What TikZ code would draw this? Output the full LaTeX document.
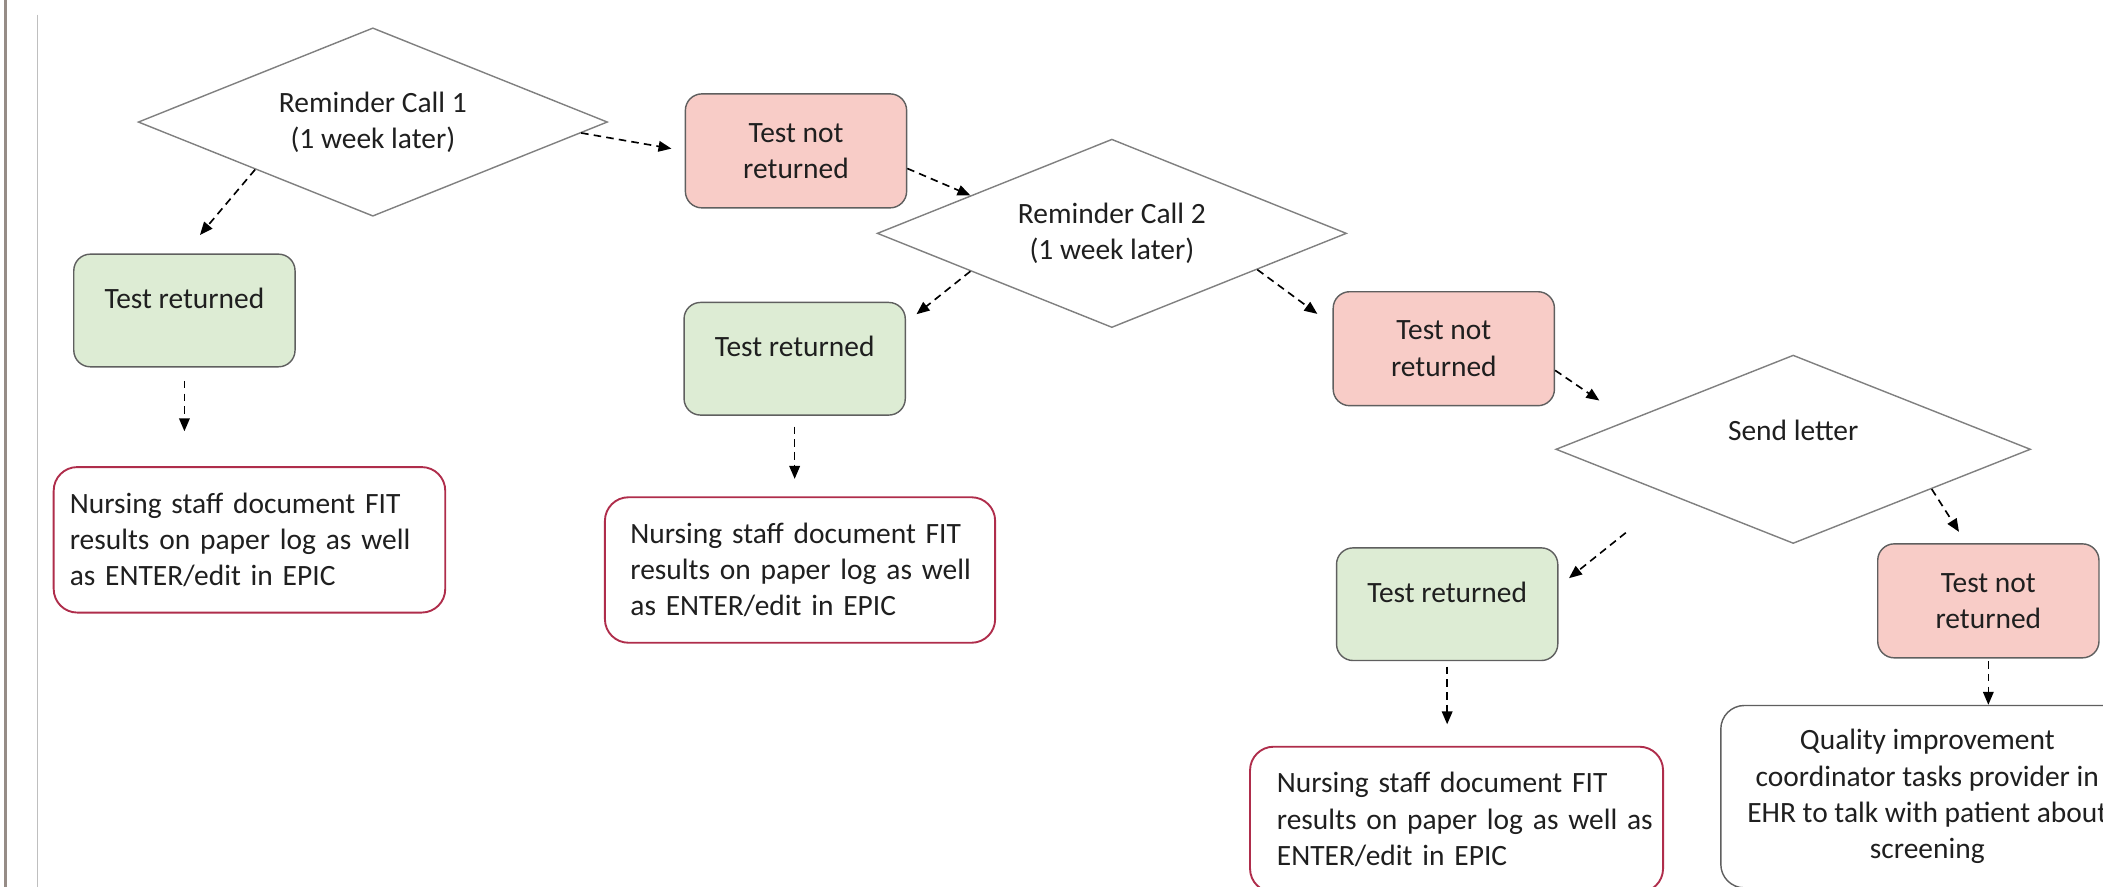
\documentclass[tikz,border=0pt]{standalone}
\usepackage{fontspec}
\setmainfont{Carlito}
\usetikzlibrary{shapes.geometric,arrows.meta}
\definecolor{pinkfill}{RGB}{248,204,199}
\definecolor{greenfill}{RGB}{221,236,212}
\definecolor{boxline}{RGB}{95,95,95}
\definecolor{noteline}{RGB}{175,45,75}
\definecolor{pageline}{RGB}{150,140,135}
\begin{document}
\begin{tikzpicture}[x=0.02cm,y=-0.02cm]
    \tikzset{base/.style = {font=\fontsize{12.5}{15.4}\selectfont, text=black!88, line width=0.6pt, inner sep=0pt},
             decision/.style = {base, shape=diamond, aspect=2.5, draw=black!50, fill=white, minimum width=7cm, minimum height=2.81cm, align=center},
             notret/.style = {base, rectangle, rounded corners=7pt, draw=boxline, fill=pinkfill, minimum width=3.3cm, minimum height=1.7cm, align=center},
             ret/.style = {base, rectangle, rounded corners=7pt, draw=boxline, fill=greenfill, minimum width=3.3cm, minimum height=1.68cm, text depth=0.37cm},
             note/.style = {base, rectangle, rounded corners=10pt, draw=noteline, line width=0.8pt, fill=white, minimum height=2.17cm, align=left, text width=5.36cm, inner xsep=0.24cm},
             qinote/.style = {base, rectangle, rounded corners=10pt, draw=boxline, fill=white, minimum width=6.16cm, minimum height=2.72cm, align=center},
             flow/.style = {dash pattern=on 3.2pt off 2.2pt, line width=0.7pt, -{Triangle[length=5.5pt,width=4.5pt]}}}
    \useasboundingbox (0,0) rectangle (1568,661);
    \clip (0,0) rectangle (1568,661);
    % page edge
    \draw[pageline, line width=1.3pt] (4,0) -- (4,661);
    \draw[black!25, line width=0.6pt] (28,11) -- (28,661);
    % decisions
    \node[decision] (d1) at (278,91) {Reminder Call 1\\(1 week later)};
    \node[decision] (d2) at (829,174) {Reminder Call 2\\(1 week later)};
    \node[decision, minimum width=7.08cm, text depth=0.57cm] (d3) at (1337,335) {Send letter};
    % outcomes
    \node[notret] (p1) at (593.5,112.5) {Test not\\returned};
    \node[notret] (p2) at (1076.5,260) {Test not\\returned};
    \node[notret] (p3) at (1482.5,448) {Test not\\returned};
    \node[ret] (g1) at (137.5,231.5) {Test returned};
    \node[ret] (g2) at (592.5,267.5) {Test returned};
    \node[ret] (g3) at (1079,450.5) {Test returned};
    % documentation
    \node[note] (n1) at (186,402.5) {\mbox{Nursing staff document FIT}\\\mbox{results on paper log as well}\\\mbox{as ENTER/edit in EPIC}};
    \node[note, text width=5.06cm, inner xsep=0.38cm] (n2) at (596.5,425) {\mbox{Nursing staff document FIT}\\\mbox{results on paper log as well}\\\mbox{as ENTER/edit in EPIC}};
    \node[note, text width=5.36cm, inner xsep=0.4cm] (n3) at (1086,611) {\mbox{Nursing staff document FIT}\\\mbox{results on paper log as well as}\\\mbox{ENTER/edit in EPIC}};
    \node[qinote] (q) at (1437,594) {Quality improvement\\coordinator tasks provider in\\EHR to talk with patient about\\screening};
    % connectors
    \draw[flow, shorten >=0.2cm] (d1.-3) -- (p1.west);
    \draw[flow, shorten >=0.36cm] (d1.south west) -- (g1.north);
    \draw[flow] (p1.-9) -- (d2.165);
    \draw[flow, shorten >=0.2cm] (d2.195) -- (g2.18);
    \draw[flow, shorten >=0.28cm] (d2.-14) -- (p2.168);
    \draw[flow, shorten <=0.2cm, shorten >=0.52cm] (g1.south) -- (g1.south |- n1.north);
    \draw[flow, shorten <=0.16cm, shorten >=0.26cm] (g2.south) -- (g2.south |- n2.north);
    \draw[flow, shorten >=0.52cm] (p2.-11) -- (d3.170);
    \draw[flow, shorten <=0.88cm, shorten >=0.2cm] (d3.201) -- (g3.9);
    \draw[flow, shorten >=0.2cm] (d3.-16) -- (p3.111);
    \draw[flow, shorten <=0.08cm, shorten >=0.32cm] (g3.south) -- (g3.south |- n3.north);
    \draw[flow, shorten <=0.04cm] (p3.south) -- (p3.south |- q.north);
\end{tikzpicture}
\end{document}
